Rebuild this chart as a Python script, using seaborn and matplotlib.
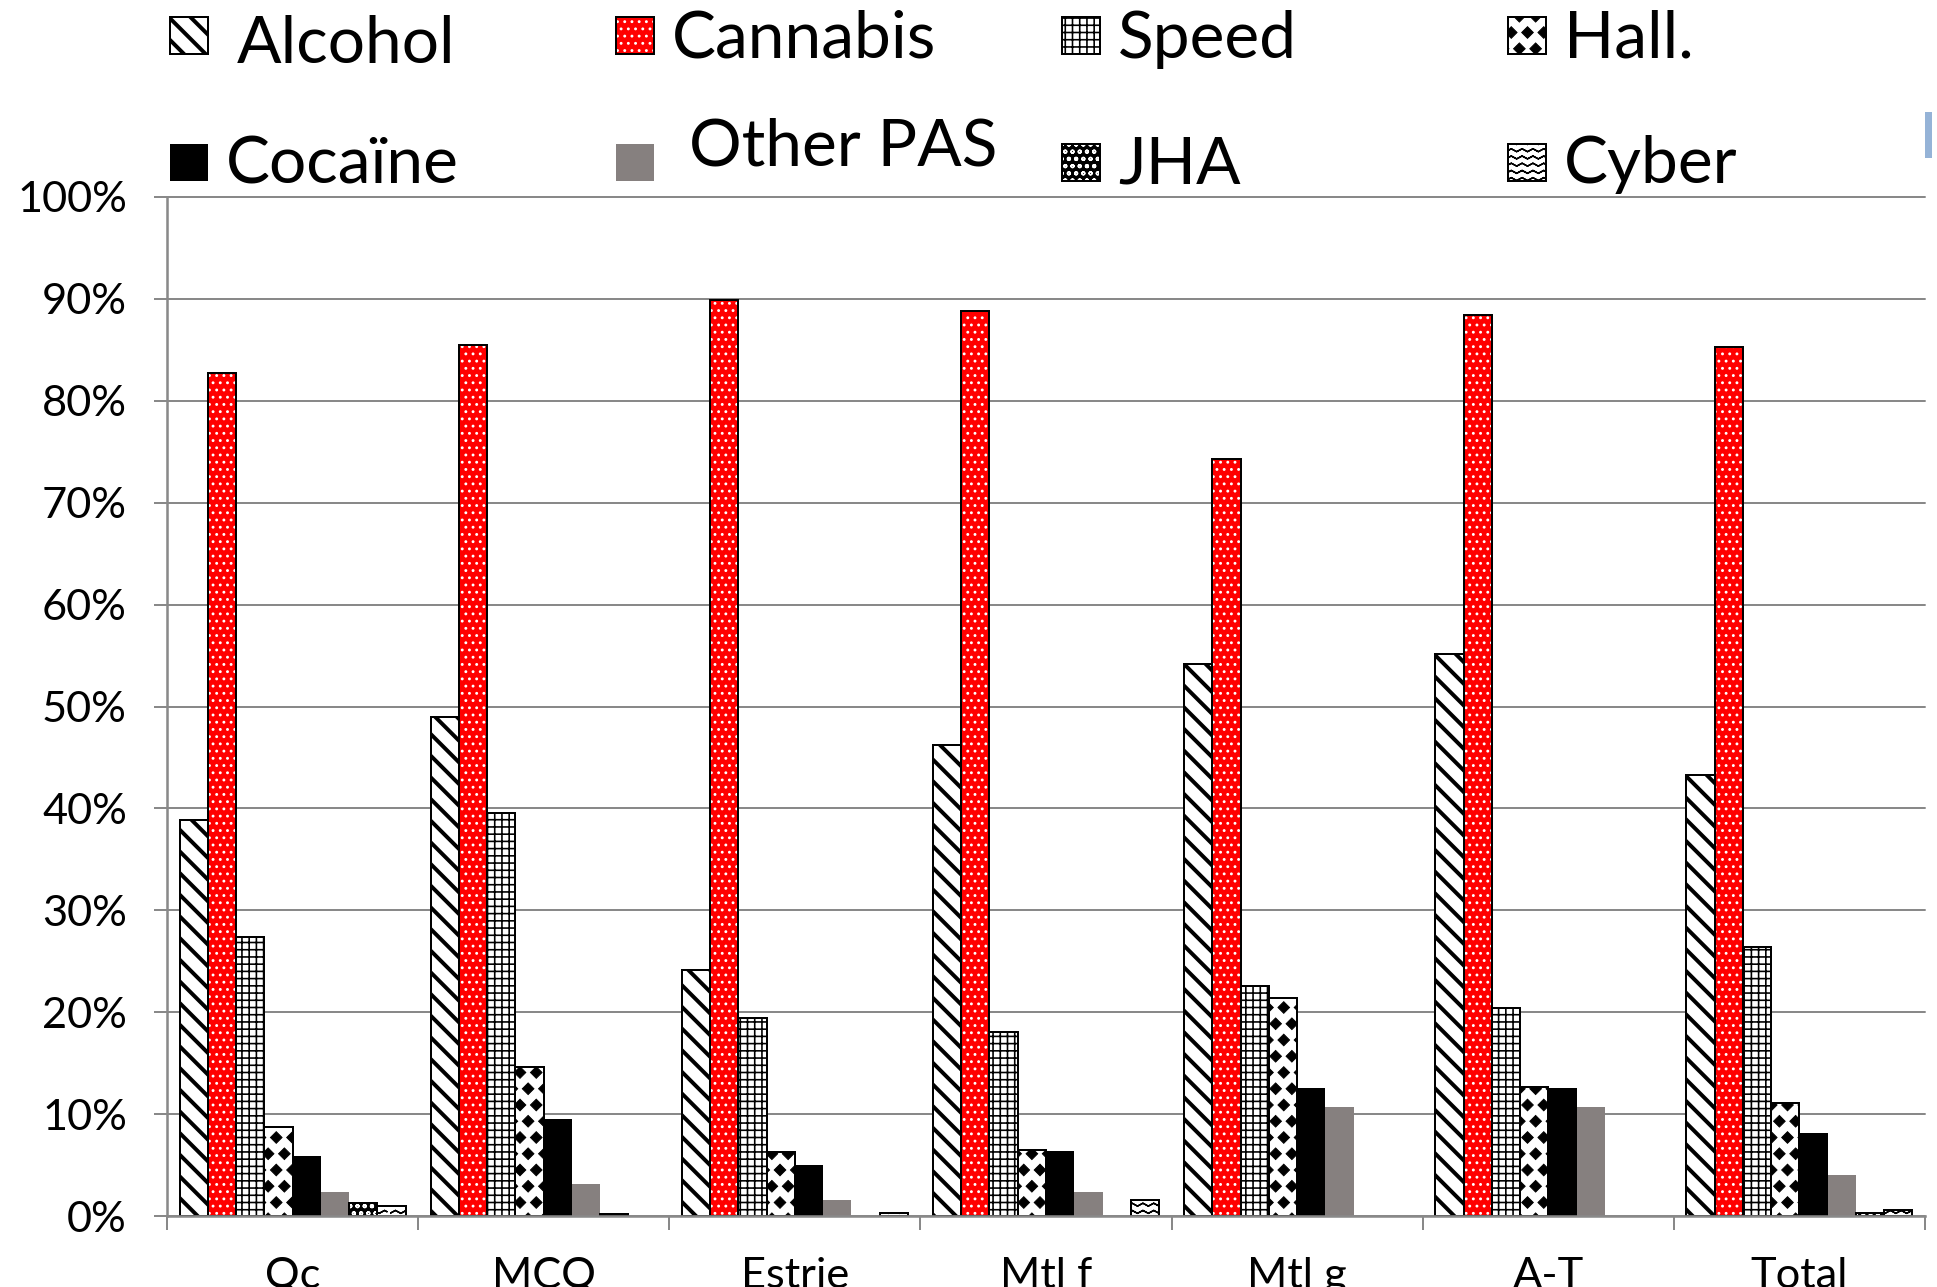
import numpy as np
import pandas as pd
import matplotlib
matplotlib.use("Agg")
import matplotlib.pyplot as plt
import matplotlib.hatch as mhatch
from matplotlib.path import Path
from matplotlib.patches import Rectangle
import seaborn as sns

# ---------------------------------------------------------------- data
regions = ["Qc", "MCQ", "Estrie", "Mtl f", "Mtl g", "A-T", "Total"]
substances = ["Alcohol", "Cannabis", "Speed", "Hall.",
              "Cocaïne", "Other PAS", "JHA", "Cyber"]

# share of respondents (%) per region
alcohol = [38.9, 49.0, 24.1, 46.2, 54.2, 55.2, 43.3]
cannabis = [82.7, 85.5, 89.9, 88.8, 74.3, 88.4, 85.3]
speed = [27.4, 39.5, 19.4, 18.1, 22.6, 20.4, 26.4]
hallucinogens = [8.7, 14.6, 6.3, 6.5, 21.4, 12.7, 11.1]
cocaine = [5.9, 9.5, 5.0, 6.4, 12.6, 12.6, 8.1]
other_pas = [2.4, 3.1, 1.6, 2.4, 10.7, 10.7, 4.0]
jha = [1.3, 0.2, 0.0, 0.0, 0.0, 0.0, 0.3]
cyber = [1.0, 0.0, 0.3, 1.6, 0.0, 0.0, 0.6]

y_ticks = [0, 10, 20, 30, 40, 50, 60, 70, 80, 90, 100]

series = [alcohol, cannabis, speed, hallucinogens,
          cocaine, other_pas, jha, cyber]
df = pd.DataFrame({
    "region": np.repeat([regions], len(substances), axis=0).ravel(),
    "substance": np.repeat(substances, len(regions)),
    "pct": np.concatenate(series),
})


# ---------------------------------------------------------------- hatches
class DiamondHatch(mhatch.Shapes):
    """Staggered filled diamonds, drawn for '*'."""
    size = 0.36
    filled = True

    def __init__(self, hatch, density):
        self.num_rows = int(hatch.count("*") * density * 2 / 3)
        self.shape_vertices = np.array(
            [[0, -1], [1, 0], [0, 1], [-1, 0], [0, -1]], dtype=float)
        self.shape_codes = np.array(
            [Path.MOVETO, Path.LINETO, Path.LINETO, Path.LINETO,
             Path.CLOSEPOLY], dtype=Path.code_type)
        super().__init__(hatch, density)


class ZigzagHatch(mhatch.HatchPatternBase):
    """Horizontal zigzag lines, drawn for 'O'."""
    teeth = 12

    def __init__(self, hatch, density):
        self.num_lines = int(hatch.count("O") * density)
        self.n = 2 * self.teeth + 1
        self.num_vertices = self.num_lines * 2 * self.n

    def set_vertices_and_codes(self, vertices, codes):
        xs = np.linspace(0, 1, self.n)
        step = 1.0 / self.num_lines
        wave = np.where(np.arange(self.n) % 2 == 0, 0.0, 0.4 * step)
        parts = []
        for k in range(self.num_lines):
            fwd = np.column_stack([xs, k * step + wave])
            parts.append(np.vstack([fwd, fwd[::-1]]))
        vertices[:] = np.vstack(parts)
        codes[:] = Path.LINETO
        codes[0::2 * self.n] = Path.MOVETO


mhatch._hatch_types = [t for t in mhatch._hatch_types
                       if t not in (mhatch.Stars, mhatch.LargeCircles)]
mhatch._hatch_types += [DiamondHatch, ZigzagHatch]

styles = {
    "Alcohol":   dict(face="white", hatch="\\\\", hc="black", hlw=2.2, edge=True),
    "Cannabis":  dict(face="#FF0000", hatch="...", hc="white", hlw=0.8, edge=True),
    "Speed":     dict(face="white", hatch="+++", hc="black", hlw=0.9, edge=True),
    "Hall.":     dict(face="white", hatch="**", hc="black", hlw=0.5, edge=True),
    "Cocaïne":   dict(face="black", hatch=None, hc="black", hlw=0.5, edge=False),
    "Other PAS": dict(face="#86807F", hatch=None, hc="#86807F", hlw=0.5, edge=False),
    "JHA":       dict(face="black", hatch="ooo", hc="white", hlw=0.8, edge=True),
    "Cyber":     dict(face="white", hatch="OOO", hc="black", hlw=0.8, edge=True),
}

# ---------------------------------------------------------------- figure
sns.set_style("white")
plt.rcParams["font.family"] = ["Lato", "DejaVu Sans"]
plt.rcParams["hatch.linewidth"] = 0.8
plt.rcParams["text.color"] = "black"

GRAY = "#898989"
DPI = 130
W, H = 1937, 1287
fig = plt.figure(figsize=(W / DPI, H / DPI), dpi=DPI)
ax = fig.add_axes([167 / W, 1 - 1216 / H, (1925 - 167) / W, (1216 - 197) / H])


def apply_hatch(patch, st):
    """Fill colour, hatch pattern and per-patch hatch line width."""
    patch.set_facecolor(st["face"])
    patch.set_edgecolor(st["hc"])
    patch.set_linewidth(0)
    patch.set_hatch(st["hatch"])
    lw = st["hlw"]
    if hasattr(patch, "set_hatch_linewidth"):
        patch.set_hatch_linewidth(lw)
    patch._hatch_linewidth = lw
    base_draw = patch.draw

    def draw(renderer, _base=base_draw, _lw=lw):
        with plt.rc_context({"hatch.linewidth": _lw}):
            _base(renderer)

    patch.draw = draw


# filled, hatched bars
sns.barplot(data=df, x="region", y="pct", hue="substance",
            order=regions, hue_order=substances,
            palette={s: styles[s]["face"] for s in substances},
            saturation=1, width=0.9, gap=0, errorbar=None,
            legend=False, ax=ax)
n_fill = len(ax.containers)
for name, cont in zip(substances, ax.containers[:n_fill]):
    for bar in cont:
        apply_hatch(bar, styles[name])

# black outlines on top of the hatched bars
sns.barplot(data=df, x="region", y="pct", hue="substance",
            order=regions, hue_order=substances,
            palette={s: "black" for s in substances},
            saturation=1, width=0.9, gap=0, errorbar=None, fill=False,
            legend=False, ax=ax)
for name, cont in zip(substances, ax.containers[n_fill:]):
    for bar in cont:
        bar.set_facecolor("none")
        bar.set_edgecolor("black")
        bar.set_linewidth(1.1)
        bar.set_hatch(None)
        if not styles[name]["edge"] or bar.get_height() == 0:
            bar.set_visible(False)

# ---------------------------------------------------------------- axes
ax.set_xlim(-0.5, len(regions) - 0.5)
ax.set_ylim(0, 100)
ax.set_xlabel("")
ax.set_ylabel("")
ax.set_yticks(y_ticks)
ax.set_yticklabels([f"{t}%" for t in y_ticks])
ax.set_xticks(range(len(regions)))
ax.set_xticklabels(regions)
ax.set_xticks(np.arange(-0.5, len(regions), 1.0), minor=True)

ax.set_axisbelow(True)
ax.yaxis.grid(True, color=GRAY, linewidth=1.1)
ax.xaxis.grid(False)
for gl in ax.get_ygridlines():
    gl.set_clip_on(False)

ax.tick_params(axis="y", left=True, direction="out", length=7.2, width=1.1,
               color=GRAY, pad=15, labelsize=24, labelcolor="black")
ax.tick_params(axis="x", which="major", bottom=True, length=0, pad=22.7,
               labelsize=24, labelcolor="black")
ax.tick_params(axis="x", which="minor", bottom=True, direction="out",
               length=7.75, width=1.1, color=GRAY)

for side in ("top", "right"):
    ax.spines[side].set_visible(False)
for side in ("left", "bottom"):
    ax.spines[side].set_color(GRAY)
    ax.spines[side].set_linewidth(1.4)

# ---------------------------------------------------------------- legend
key_w, key_h = 38, 37
key_left = [170, 616, 1062, 1508]
key_top = [17, 144]
text_dx = {"Alcohol": 67, "Other PAS": 73}
text_base = {"Alcohol": 63, "Other PAS": 166}
row_base = [58, 183]

for i, name in enumerate(substances):
    row, col = divmod(i, 4)
    st = styles[name]
    x0 = key_left[col]
    y0 = key_top[row]
    rect = Rectangle((x0 / W, 1 - (y0 + key_h) / H), key_w / W, key_h / H,
                     transform=fig.transFigure)
    apply_hatch(rect, st)
    fig.add_artist(rect)
    if st["edge"]:
        fig.add_artist(Rectangle((x0 / W, 1 - (y0 + key_h) / H),
                                 key_w / W, key_h / H, fill=False,
                                 edgecolor="black", linewidth=1.1,
                                 transform=fig.transFigure))
    tx = x0 + text_dx.get(name, 56)
    ty = text_base.get(name, row_base[row])
    fig.text(tx / W, 1 - ty / H, name, ha="left", va="baseline",
             fontsize=36.5, color="black")

# small accent bar at the right edge
fig.add_artist(Rectangle((1925 / W, 1 - 158 / H), 7 / W, 46 / H,
                         facecolor="#95B3D7", edgecolor="none",
                         transform=fig.transFigure))

fig.savefig("out.png", dpi=DPI)
